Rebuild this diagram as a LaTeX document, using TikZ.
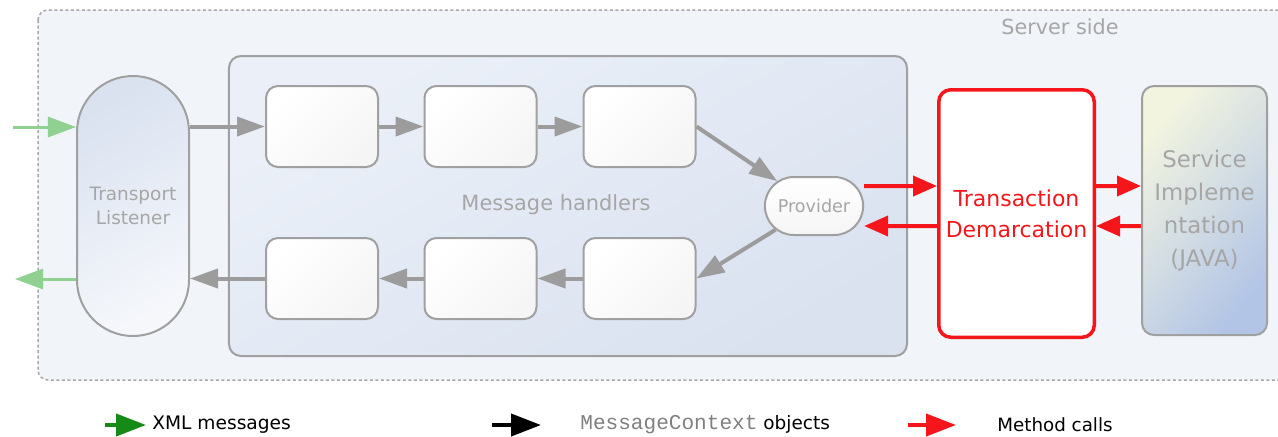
\documentclass[tikz,border=0pt]{standalone}
\usepackage{fontspec}
\setmainfont{DejaVu Sans}
\setmonofont{Liberation Mono}
\usetikzlibrary{arrows.meta,shapes.misc}

\definecolor{linegray}{HTML}{A0A0A0}
\definecolor{arrowgray}{HTML}{9C9C9C}
\definecolor{textgray}{HTML}{A6A6A6}
\definecolor{serverbg}{HTML}{F1F4F9}
\definecolor{framegray}{HTML}{A8A8A8}
\definecolor{handlertop}{HTML}{EBF0F8}
\definecolor{handlerbottom}{HTML}{DAE2F0}
\definecolor{tlblue}{HTML}{DAE2F0}
\definecolor{tlwhite}{HTML}{F5F7FB}
\definecolor{boxshade}{HTML}{F5F5F5}
\definecolor{callred}{HTML}{F5161B}
\definecolor{xmlgreen}{HTML}{90D090}
\definecolor{legendgreen}{HTML}{168A16}
\definecolor{javablue}{HTML}{B3C5E6}
\definecolor{javamid}{HTML}{CAD6EC}
\definecolor{javayellow}{HTML}{F2F4E0}

\begin{document}
\begin{tikzpicture}[x=0.2mm, y=-0.2mm,
	handler/.style={draw=linegray, line width=0.4mm, rounded corners=2.4mm, minimum width=22.4mm, minimum height=16.2mm, top color=white, bottom color=boxshade, shading angle=45},
	grayarrow/.style={draw=arrowgray, line width=0.8mm, -{Triangle[length=5.6mm, width=3.8mm]}},
	redarrow/.style={draw=callred, line width=0.8mm, -{Triangle[length=4.8mm, width=4mm]}},
	xmlarrow/.style={draw=xmlgreen, line width=0.6mm, -{Triangle[length=5.6mm, width=4mm]}},
	legendarrow/.style={line width=0.8mm, -{Triangle[length=6mm, width=4.4mm]}},
	graytext/.style={text=textgray, align=center}]

	\clip (0,0) rectangle (1278,436);
	\fill[white] (0,0) rectangle (1278,436);

	% Server side frame
	\fill[serverbg, rounded corners=2mm] (38,10) rectangle (1320,380);
	\draw[framegray, line width=0.3mm, dash pattern=on 0.6mm off 0.5mm, rounded corners=2mm] (38,10) rectangle (1320,380);
	\node[graytext, font=\fontsize{11.8}{14}\selectfont] (srv) at (1060,27) {Server side};

	% Transport listener and message handlers
	\node[draw=linegray, line width=0.4mm, rounded corners=11.2mm, minimum width=22.4mm, minimum height=52mm, top color=tlblue, bottom color=tlwhite, shading angle=30, graytext, font=\fontsize{10.5}{13.6}\selectfont] (tl) at (133,206) {Transport\\Listener};

	\node[draw=linegray, line width=0.4mm, rounded corners=2.4mm, minimum width=135.6mm, minimum height=60mm, top color=handlertop, bottom color=handlerbottom, shading angle=30] (mh) at (568,206) {};
	\node[graytext, font=\fontsize{11.9}{14}\selectfont] (mhlabel) at (556,205) {Message handlers};

	\node[handler] (h1) at (322,126.5) {};
	\node[handler] (h2) at (480.5,126.5) {};
	\node[handler] (h3) at (639.5,126.5) {};
	\node[handler] (g1) at (322,278.5) {};
	\node[handler] (g2) at (480.5,278.5) {};
	\node[handler] (g3) at (639.5,278.5) {};

	\node[rounded rectangle, draw=linegray, line width=0.4mm, minimum width=22mm, minimum height=11.6mm, top color=white, bottom color=boxshade, graytext, font=\fontsize{10}{12}\selectfont] (prov) at (814,206) {Provider};

	% Transaction and service implementation
	\node[draw=callred, line width=0.7mm, rounded corners=2.4mm, fill=white, minimum width=31.1mm, minimum height=49.5mm, text=callred, align=center, font=\fontsize{12.5}{17.6}\selectfont] (td) at (1016.5,213.5) {Transaction\\Demarcation};

	\node[draw=linegray, line width=0.4mm, rounded corners=2.4mm, minimum width=25mm, minimum height=49.8mm, top color=javayellow, middle color=javamid, bottom color=javablue, shading angle=50, graytext, font=\fontsize{13}{18.7}\selectfont] (si) at (1204.5,210.5) {Service\\Impleme\\ntation\\(JAVA)};

	% XML messages in and out
	\coordinate (xin) at (13,127);
	\coordinate (xout) at (15,279);
	\draw[xmlarrow] (xin) -- (tl.west |- xin);
	\draw[xmlarrow] (tl.west |- xout) -- (xout);

	% Message context flow
	\draw[grayarrow] (tl.east |- h1.west) -- (h1.west);
	\draw[grayarrow] (h1.east) -- (h2.west);
	\draw[grayarrow] (h2.east) -- (h3.west);
	\draw[grayarrow] (h3.east) -- (prov);
	\draw[grayarrow] (prov) -- (g3.east);
	\draw[grayarrow] (g3.west) -- (g2.east);
	\draw[grayarrow] (g2.west) -- (g1.east);
	\draw[grayarrow] (g1.west) -- (tl.east |- g1.west);

	% Method calls
	\draw[redarrow] ([yshift=4mm]prov.east) -- ([yshift=5.5mm]td.west);
	\draw[redarrow] ([yshift=-2.5mm]td.west) -- ([yshift=-4mm]prov.east);
	\draw[redarrow] ([yshift=5.5mm]td.east) -- ([yshift=4.9mm]si.west);
	\draw[redarrow] ([yshift=-3.1mm]si.west) -- ([yshift=-2.5mm]td.east);

	% Legend
	\node[anchor=west, inner sep=1.2mm, font=\fontsize{10.6}{12}\selectfont] (lgxml) at (146,425) {XML messages};
	\node[anchor=west, inner sep=1.2mm, font=\fontsize{10.5}{12}\selectfont] (lgctx) at (574,425) {\textcolor{gray}{\fontsize{12}{12}\selectfont\ttfamily MessageContext} objects};
	\node[anchor=west, inner sep=1.2mm, font=\fontsize{10.4}{12}\selectfont] (lgcall) at (991,425) {Method calls};
	\coordinate (lgxml0) at (105,425);
	\coordinate (lgctx0) at (492,425);
	\coordinate (lgcall0) at (908,425);
	\draw[legendarrow, legendgreen] (lgxml0) -- (lgxml.west);
	\draw[legendarrow, black, shorten >=6.6mm] (lgctx0) -- (lgctx.west);
	\draw[legendarrow, callred, shorten >=7mm] (lgcall0) -- (lgcall.west);
\end{tikzpicture}
\end{document}
